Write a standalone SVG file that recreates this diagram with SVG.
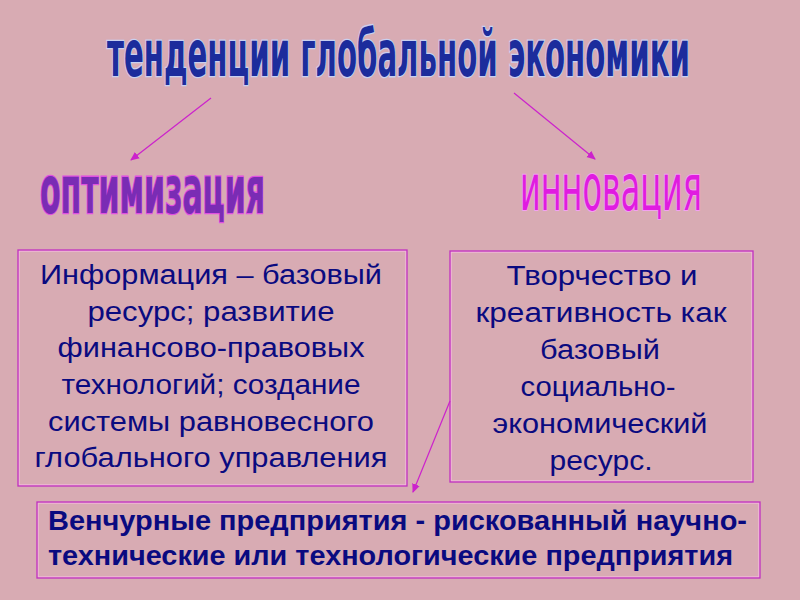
<svg xmlns="http://www.w3.org/2000/svg" width="800" height="600" viewBox="0 0 800 600">
<style>
.bg{fill:#d8abb3}
.box{fill:none;stroke:#c030c0;stroke-width:1.3}
.boxin{fill:none;stroke:#f0b8d8;stroke-width:1.5}
.body{font-family:"Liberation Sans",Arial,sans-serif;font-size:27px;fill:#0a0a80;text-anchor:middle}
.bold{font-family:"Liberation Sans",Arial,sans-serif;font-size:27px;font-weight:bold;fill:#0a0a80}
.wa{font-family:"Liberation Sans Narrow","DejaVu Sans Condensed","Liberation Sans",sans-serif;paint-order:stroke}
.conn{stroke:#cc22cc;stroke-width:1.2;fill:none}
</style>
<defs>
<marker id="ah" markerWidth="10" markerHeight="10" refX="8" refY="5" orient="auto" markerUnits="userSpaceOnUse">
<path d="M0,1 L9,5 L0,9 z" fill="#cc22cc"/>
</marker>
</defs>
<rect class="bg" x="0" y="0" width="800" height="600"/>

<g id="title" transform="translate(107,76) scale(1,1.78)">
<text class="wa" x="0" y="0" font-size="36" font-weight="bold" textLength="583" lengthAdjust="spacingAndGlyphs" fill="#1c2c9c" stroke="#c8d0f0" stroke-width="1.5">тенденции глобальной экономики</text>
</g>

<g id="optimization" transform="translate(40,213) scale(1,1.45)">
<text class="wa" x="0" y="0" font-size="45" font-weight="bold" textLength="225" lengthAdjust="spacingAndGlyphs" fill="#7a2cb4" stroke="#e050e0" stroke-width="1.8">оптимизация</text>
</g>

<g id="innovation" transform="translate(520,210) scale(1,1.33)">
<text class="wa" x="0" y="0" font-size="48" textLength="182" lengthAdjust="spacingAndGlyphs" fill="#e01ce0" stroke="#f4a0f0" stroke-width="1.5">инновация</text>
</g>

<g id="left-box">
<rect class="boxin" x="19" y="251" width="387" height="234"/>
<rect class="box" x="18" y="250" width="389" height="236"/>
<text class="body" x="211" y="284" textLength="342" lengthAdjust="spacingAndGlyphs">Информация – базовый</text>
<text class="body" x="211" y="321" textLength="247" lengthAdjust="spacingAndGlyphs">ресурс; развитие</text>
<text class="body" x="211" y="357" textLength="307" lengthAdjust="spacingAndGlyphs">финансово-правовых</text>
<text class="body" x="211" y="394" textLength="299" lengthAdjust="spacingAndGlyphs">технологий; создание</text>
<text class="body" x="211" y="431" textLength="326" lengthAdjust="spacingAndGlyphs">системы равновесного</text>
<text class="body" x="211" y="467" textLength="353" lengthAdjust="spacingAndGlyphs">глобального управления</text>
</g>

<g id="right-box">
<rect class="boxin" x="451" y="252" width="301" height="229"/>
<rect class="box" x="450" y="251" width="303" height="231"/>
<text class="body" x="602" y="285" textLength="191" lengthAdjust="spacingAndGlyphs">Творчество и</text>
<text class="body" x="601" y="322" textLength="251" lengthAdjust="spacingAndGlyphs">креативность как</text>
<text class="body" x="600" y="359" textLength="120" lengthAdjust="spacingAndGlyphs">базовый</text>
<text class="body" x="598" y="396" textLength="155" lengthAdjust="spacingAndGlyphs">социально-</text>
<text class="body" x="600" y="433" textLength="215" lengthAdjust="spacingAndGlyphs">экономический</text>
<text class="body" x="601" y="470" textLength="103" lengthAdjust="spacingAndGlyphs">ресурс.</text>
</g>

<g id="bottom-box">
<rect class="boxin" x="38" y="503" width="721" height="74"/>
<rect class="box" x="37" y="502" width="723" height="76"/>
<text class="bold" x="48" y="530" textLength="699" lengthAdjust="spacingAndGlyphs">Венчурные предприятия - рискованный научно-</text>
<text class="bold" x="48" y="565" textLength="685" lengthAdjust="spacingAndGlyphs">технические или технологические предприятия</text>
</g>

<g id="connectors">
<line class="conn" x1="211" y1="98" x2="131" y2="160" marker-end="url(#ah)"/>
<line class="conn" x1="514" y1="93" x2="595" y2="159" marker-end="url(#ah)"/>
<line class="conn" x1="450" y1="401" x2="413" y2="492" marker-end="url(#ah)"/>
</g>
</svg>
